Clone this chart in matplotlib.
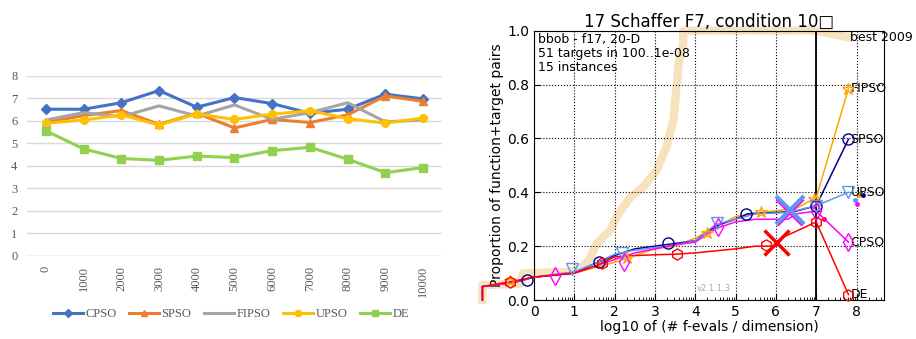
import numpy as np
import matplotlib
matplotlib.use('Agg')
from matplotlib import pyplot as plt
from matplotlib.lines import Line2D

# ---- left panel: values per iteration count ----
iterations = ['0', '1000', '2000', '3000', '4000', '5000', '6000', '7000', '8000', '9000', '10000']
cpso = [6.52, 6.52, 6.81, 7.35, 6.61, 7.04, 6.77, 6.34, 6.52, 7.19, 6.98]
spso = [5.93, 6.24, 6.46, 5.85, 6.34, 5.69, 6.07, 5.93, 6.27, 7.11, 6.87]
fipso = [6.04, 6.37, 6.19, 6.67, 6.22, 6.71, 6.07, 6.37, 6.81, 5.96, 6.04]
upso = [5.90, 6.04, 6.27, 5.82, 6.31, 6.07, 6.30, 6.46, 6.10, 5.90, 6.13]
de = [5.56, 4.76, 4.33, 4.25, 4.44, 4.37, 4.68, 4.83, 4.30, 3.70, 3.93]

# ---- right panel: ECDF curves (log10 evals / dim, proportion) ----
best_x = [-1.28, -1.28, -0.35, -0.27, 0.89, 1.22, 1.39, 1.56, 1.89, 2.05, 2.38, 2.71, 3.04, 3.29, 3.46, 3.58, 3.66, 3.70, 3.70, 7.0, 7.8]
best_y = [0.0, 0.056, 0.06, 0.099, 0.105, 0.124, 0.155, 0.21, 0.26, 0.31, 0.38, 0.42, 0.48, 0.57, 0.67, 0.866, 0.93, 0.95, 1.0, 1.0, 0.975]

spso_x = [-1.28, -1.28, -0.5, 0.0, 1.0, 1.5, 2.0, 2.5, 3.0, 3.5, 4.0, 4.3, 4.6, 5.0, 5.3, 6.0, 6.5, 7.0, 7.8]
spso_y = [0.0, 0.05, 0.065, 0.085, 0.10, 0.135, 0.165, 0.19, 0.20, 0.21, 0.22, 0.255, 0.28, 0.30, 0.32, 0.325, 0.33, 0.35, 0.597]
spso_mx = [-0.18, 1.6, 3.33, 5.26, 7.0, 7.8]
spso_my = [0.074, 0.142, 0.21, 0.318, 0.35, 0.597]

fipso_x = [-1.28, -1.28, -0.5, 0.0, 1.0, 1.5, 2.0, 2.5, 3.0, 3.5, 4.0, 4.5, 5.0, 5.6, 6.5, 7.0, 7.8]
fipso_y = [0.0, 0.05, 0.07, 0.085, 0.10, 0.12, 0.14, 0.165, 0.19, 0.20, 0.23, 0.27, 0.31, 0.325, 0.34, 0.38, 0.785]
fipso_mx = [-0.6, 2.3, 4.29, 5.63, 6.95, 7.8]
fipso_my = [0.07, 0.155, 0.248, 0.325, 0.375, 0.785]

upso_x = [-1.28, -1.28, -0.5, 0.0, 1.0, 1.5, 2.0, 2.5, 3.0, 3.5, 4.0, 4.5, 5.0, 5.5, 6.3, 7.0, 7.8]
upso_y = [0.0, 0.05, 0.065, 0.085, 0.105, 0.135, 0.17, 0.185, 0.195, 0.205, 0.22, 0.28, 0.30, 0.32, 0.325, 0.35, 0.40]
upso_mx = [0.93, 2.18, 4.53, 7.0, 7.8]
upso_my = [0.115, 0.173, 0.285, 0.35, 0.40]

cpso_x = [-1.28, -1.28, -0.5, 0.0, 1.0, 1.5, 2.0, 2.5, 3.0, 3.5, 4.0, 4.5, 5.0, 5.5, 6.3, 6.5, 7.0, 7.8]
cpso_y = [0.0, 0.05, 0.065, 0.085, 0.10, 0.125, 0.15, 0.175, 0.19, 0.205, 0.215, 0.265, 0.29, 0.30, 0.30, 0.32, 0.33, 0.215]
cpso_mx = [0.52, 2.24, 4.56, 7.0, 7.8]
cpso_my = [0.089, 0.142, 0.272, 0.33, 0.215]

de_x = [-1.28, -1.28, -0.5, 0.0, 1.0, 1.5, 2.0, 2.5, 3.0, 3.5, 4.0, 5.0, 5.5, 6.0, 6.2, 6.5, 7.0, 7.8]
de_y = [0.0, 0.05, 0.07, 0.085, 0.10, 0.125, 0.16, 0.165, 0.168, 0.17, 0.175, 0.19, 0.20, 0.20, 0.235, 0.255, 0.29, 0.02]
de_mx = [-0.6, 1.68, 3.54, 5.76, 7.0, 7.8]
de_my = [0.067, 0.139, 0.17, 0.204, 0.29, 0.02]

names = ['FIPSO', 'SPSO', 'UPSO', 'CPSO', 'DE']
label_y = [0.785, 0.597, 0.40, 0.215, 0.02]
ert_x = [8.05, 8.15, 7.95, 8.0, 7.2]
ert_y = [0.39, 0.39, 0.37, 0.355, 0.30]

fig = plt.figure(figsize=(9.16, 3.39), dpi=100)

# ================= left chart =================
ax = fig.add_axes([0.0295, 0.245, 0.453, 0.531])
xs = np.arange(len(iterations))
serif = ['Liberation Serif', 'DejaVu Serif']
series = [(cpso, 'CPSO', '#4472C4', 'D', 5),
          (spso, 'SPSO', '#ED7D31', '^', 6),
          (fipso, 'FIPSO', '#A5A5A5', None, 5),
          (upso, 'UPSO', '#FFC000', 'o', 5.5),
          (de, 'DE', '#92D050', 's', 5.5)]
handles = []
for vals, name, col, mk, ms in series:
    ax.plot(xs, vals, color=col, lw=2.2, marker=mk, ms=ms, zorder=3)
    handles.append(Line2D([], [], color=col, lw=2.2, marker=mk, ms=ms - 1, label=name))
ax.set_xlim(-0.5, len(iterations) - 0.5)
ax.set_ylim(0, 8)
ax.set_yticks(range(9))
ax.set_xticks(xs)
ax.set_xticklabels(iterations, rotation=90, fontfamily=serif, fontsize=9, color='#595959')
for t in ax.get_yticklabels():
    t.set_fontfamily(serif)
    t.set_fontsize(9)
    t.set_color('#595959')
ax.tick_params(length=0, pad=7)
ax.grid(axis='y', color='#D9D9D9', lw=1)
for s in ax.spines.values():
    s.set_visible(False)
ax.axhline(0, color='#D9D9D9', lw=1)
fig.legend(handles=handles, loc='center', bbox_to_anchor=(0.252, 0.074), ncol=5, frameon=False,
           prop={'family': serif, 'size': 9}, handlelength=2.4, handletextpad=0.2,
           columnspacing=1.0, labelcolor='#595959')

# ================= right chart =================
ax2 = fig.add_axes([0.583, 0.115, 0.382, 0.7944])
ax2.plot(best_x, best_y, color='wheat', lw=6, alpha=0.85, clip_on=False, zorder=1,
         solid_joinstyle='round')
ax2.text(7.85, 0.975, 'best 2009', fontsize=9, va='center', ha='left')

curves = [(fipso_x, fipso_y, fipso_mx, fipso_my, 'orange', '*', 9),
          (spso_x, spso_y, spso_mx, spso_my, '#00008B', 'o', 8),
          (upso_x, upso_y, upso_mx, upso_my, 'cornflowerblue', 'v', 8),
          (cpso_x, cpso_y, cpso_mx, cpso_my, 'magenta', 'd', 9),
          (de_x, de_y, de_mx, de_my, 'red', 'h', 8)]
for (cx, cy, mx, my, col, mk, ms), name, ly, ex, ey in zip(curves, names, label_y, ert_x, ert_y):
    ax2.plot(cx, cy, color=col, lw=1.1, clip_on=False, zorder=3)
    ax2.plot(mx, my, ls='none', marker=mk, ms=ms, mfc='none', mec=col, mew=1.0,
             clip_on=False, zorder=4)
    ax2.plot(ex, ey, ls='none', marker='o', ms=2.5, color=col, clip_on=False)
    ax2.text(7.85, ly, name, fontsize=9, va='center', ha='left')

# large crosses at the end of the runs
ax2.plot([6.35], [0.325], ls='none', marker='x', ms=19, mew=3, color='magenta', zorder=5)
ax2.plot([6.35], [0.335], ls='none', marker='x', ms=20, mew=3, color='cornflowerblue', zorder=5)
ax2.plot([6.0], [0.215], ls='none', marker='x', ms=18, mew=2.5, color='red', zorder=5)

ax2.axvline(7, color='black', lw=1.3, zorder=2)
ax2.set_xlim(0, 8.68)
ax2.set_ylim(0, 1)
ax2.set_xticks(range(9))
ax2.set_yticks([0.0, 0.2, 0.4, 0.6, 0.8, 1.0])
minor = [d + np.log10(k) for d in range(9) for k in range(2, 10) if d + np.log10(k) < 8.68]
ax2.set_xticks(minor, minor=True)
ax2.tick_params(direction='in', labelsize=10, length=4)
ax2.tick_params(which='minor', direction='in', length=2)
ax2.grid(color='black', ls=':', lw=0.8)
ax2.set_xlabel('log10 of (# f-evals / dimension)', fontsize=10, labelpad=1)
ax2.set_ylabel('Proportion of function+target pairs', fontsize=10, labelpad=2)
ax2.set_title('17 Schaffer F7, condition 10\u25a1', fontsize=12, pad=3)
ax2.text(0.01, 0.99, 'bbob - f17, 20-D\n51 targets in 100..1e-08\n15 instances',
         transform=ax2.transAxes, fontsize=9, va='top', ha='left', linespacing=1.1)
ax2.text(4.45, 0.025, 'v2.1.1.3', fontsize=6, color='#AAAAAA', ha='center', va='bottom')

fig.savefig('out.png', dpi=100)
